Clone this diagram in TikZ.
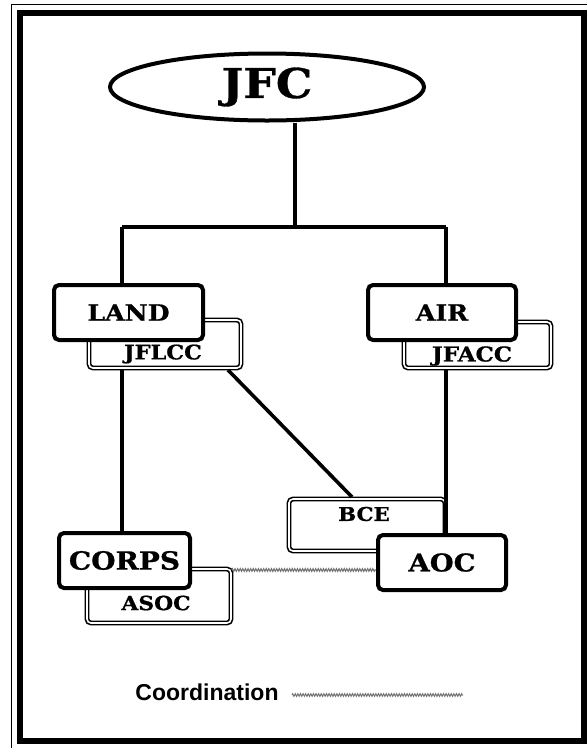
\documentclass[tikz,border=0pt]{standalone}
\usepackage{fontspec}
\usetikzlibrary{shapes.geometric,decorations.pathmorphing}
\newfontfamily\csfont{DejaVu Serif}[FakeStretch=1.12,BoldFeatures={FakeBold=0.8}]
\newfontfamily\legfont{Liberation Sans}
\begin{document}
\begin{tikzpicture}[x=1pt,y=-1pt,
  mainbox/.style={draw=black,line width=4pt,rounded corners=5pt,fill=white,inner sep=0pt,font=\csfont\bfseries},
  subbox/.style={draw=black,line width=1.6pt,double=white,double distance=1.6pt,rounded corners=4pt,fill=white,inner sep=0pt},
  subtext/.style={inner sep=0pt,font=\csfont\bfseries},
  conn/.style={draw=black,line width=3.6pt},
  coord/.style={draw=black!55,line width=1.1pt,decorate,decoration={zigzag,segment length=2.6pt,amplitude=1.3pt}}]
\useasboundingbox (0,0) rectangle (587,748);
% frame
\draw[line width=1pt] (11,748) -- (11,4) -- (587,4);
\draw[line width=6.5pt] (20,13) rectangle (584,741);
% JFC
\node[draw=black,line width=4pt,ellipse,fill=white,minimum width=314pt,minimum height=67pt,inner sep=0pt,font=\csfont\bfseries\fontsize{41}{41}\selectfont] (jfc) at (267,87) {JFC};
% coordinates of the tree
\coordinate (top) at (295,227);
\coordinate (hl) at (122,227);
\coordinate (hr) at (446,227);
\coordinate (bcein) at (352,497);
\coordinate (flout) at (228,370);
% sub boxes (behind)
\node[subbox,minimum width=152pt,minimum height=48pt] (jflcc) at (165,344) {};
\node[subbox,minimum width=147pt,minimum height=46pt] (jfacc) at (477.5,345) {};
\node[subbox,minimum width=144pt,minimum height=54pt] (asoc) at (159,596) {};
\node[subbox,minimum width=156pt,minimum height=52pt] (bce) at (367,525) {};
% connectors
\draw[conn] (top |- jfc.south) -- (top);
\draw[conn] (hl) -- (hr);
\draw[conn] (flout) -- (bcein);
% main boxes
\node[mainbox,minimum width=149pt,minimum height=55pt,font=\csfont\bfseries\fontsize{22.5}{22.5}\selectfont] (land) at (128.5,312.5) {LAND};
\node[mainbox,minimum width=148pt,minimum height=55pt,font=\csfont\bfseries\fontsize{22.5}{22.5}\selectfont] (air) at (442,312.5) {AIR};
\node[mainbox,minimum width=131pt,minimum height=55pt,font=\csfont\bfseries\fontsize{25}{25}\selectfont] (corps) at (124.5,560.5) {CORPS};
\node[mainbox,minimum width=128pt,minimum height=55pt,font=\csfont\bfseries\fontsize{24.5}{24.5}\selectfont] (aoc) at (442,562.5) {AOC};
% sub box texts
\node[subtext,font=\csfont\bfseries\fontsize{20}{20}\selectfont] (jflcct) at (163,354) {JFLCC};
\node[subtext,font=\csfont\bfseries\fontsize{20.5}{20.5}\selectfont] (jfacct) at (472,356) {JFACC};
\node[subtext,font=\csfont\bfseries\fontsize{19.5}{19.5}\selectfont] (asoct) at (156,603) {ASOC};
\node[subtext,font=\csfont\bfseries\fontsize{19}{19}\selectfont] (bcet) at (364,514) {BCE};
% vertical connectors
\draw[conn] (hl) -- (hl |- land.north);
\draw[conn] (hr) -- (hr |- air.north);
\draw[conn] (hl |- jflcc.south) -- (hl |- corps.north);
\draw[conn] (hr |- jfacc.south) -- (hr |- aoc.north);
% coordination
\draw[coord] (asoc.east |- 0,570) -- (aoc.west |- 0,570);
% legend
\node[inner sep=0pt,font=\legfont\bfseries\fontsize{23}{23}\selectfont] (legtext) at (207,692) {Coordination};
\coordinate (lega) at (292,695);
\coordinate (legb) at (463,695);
\draw[coord,line width=1pt] (lega) -- (legb);
\end{tikzpicture}
\end{document}
